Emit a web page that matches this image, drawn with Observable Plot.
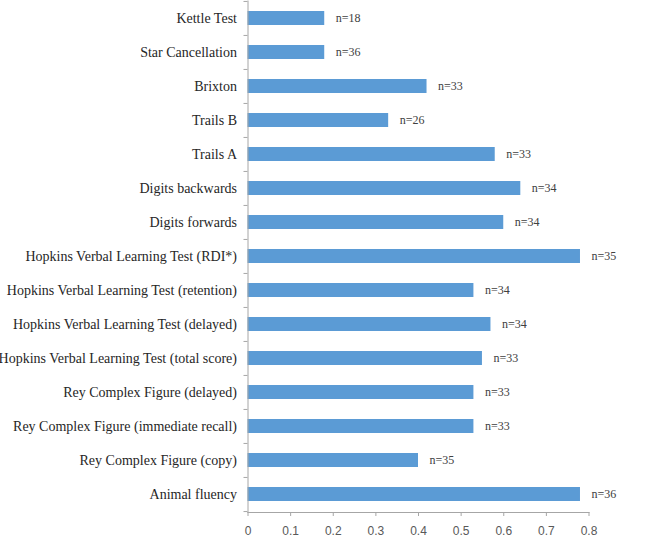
<!DOCTYPE html>
<html>
<head>
<meta charset="utf-8">
<script src="https://cdn.jsdelivr.net/npm/d3@7"></script>
<script src="https://cdn.jsdelivr.net/npm/@observablehq/plot@0.6"></script>
<style>
  html, body { margin: 0; padding: 0; background: #fff; }
  #chart svg { display: block; }
</style>
</head>
<body>
<div id="chart"></div>
<script>
const categories = [
  "Kettle Test",
  "Star Cancellation",
  "Brixton",
  "Trails B",
  "Trails A",
  "Digits backwards",
  "Digits forwards",
  "Hopkins Verbal Learning Test (RDI*)",
  "Hopkins Verbal Learning Test (retention)",
  "Hopkins Verbal Learning Test (delayed)",
  "Hopkins Verbal Learning Test (total score)",
  "Rey Complex Figure (delayed)",
  "Rey Complex Figure (immediate recall)",
  "Rey Complex Figure (copy)",
  "Animal fluency"
];
const values = [0.18, 0.18, 0.42, 0.33, 0.58, 0.64, 0.60, 0.78, 0.53, 0.57, 0.55, 0.53, 0.53, 0.40, 0.78];
const counts = [18, 36, 33, 26, 33, 34, 34, 35, 34, 34, 33, 33, 33, 35, 36];
const xTicks = [0, 0.1, 0.2, 0.3, 0.4, 0.5, 0.6, 0.7, 0.8];

const data = categories.map((c, i) => ({category: c, value: values[i], n: counts[i]}));

const width = 661, height = 538;
const marginTop = 0.5, marginBottom = 26, marginLeft = 247.5, marginRight = 72.5;
const band = (height - marginTop - marginBottom) / categories.length;
const axisColor = "#a6a6a6";
const tickLen = 4 / ((width - marginLeft - marginRight) / 0.8);

const chart = Plot.plot({
  width, height, marginTop, marginBottom, marginLeft, marginRight,
  x: {domain: [0, 0.8], ticks: xTicks},
  y: {domain: categories, paddingInner: 0.6, paddingOuter: 0.3, label: null},
  marks: [
    Plot.barX(data, {y: "category", x: "value", fill: "#5b9bd5"}),
    Plot.text(data, {
      y: "category", x: "value", text: d => "n=" + d.n,
      dx: 11, textAnchor: "start", fontFamily: "Liberation Serif",
      fontSize: 12, fill: "#404040"
    }),
    Plot.frame({anchor: "left", stroke: axisColor}),
    Plot.frame({anchor: "bottom", stroke: axisColor}),
    Plot.ruleY(data, {y: "category", x1: -tickLen, x2: 0, dy: -band / 2, stroke: axisColor}),
    Plot.ruleY(data.slice(-1), {y: "category", x1: -tickLen, x2: 0, dy: band / 2, stroke: axisColor}),
    Plot.axisY({
      tickSize: 0, tickPadding: 11, label: null,
      fontFamily: "Liberation Serif", fontSize: 14, color: "#262626"
    }),
    Plot.axisX({
      ticks: xTicks, tickSize: 4, tickPadding: 10, label: null,
      stroke: axisColor, color: "#595959",
      fontFamily: "Liberation Sans", fontSize: 12,
      tickFormat: d => String(d)
    })
  ]
});
chart.style.color = "#262626";
d3.select(chart).selectAll("g[aria-label='x-axis tick label']").attr("fill", "#595959");
document.getElementById("chart").appendChild(chart);
</script>
</body>
</html>
